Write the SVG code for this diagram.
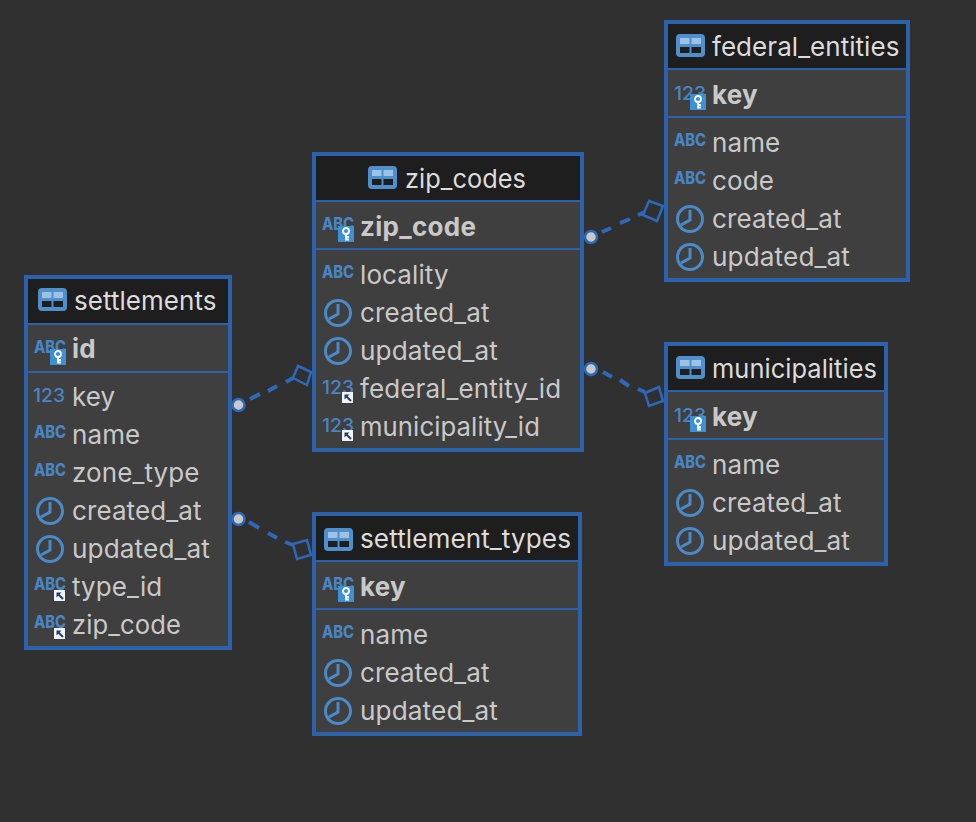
<svg xmlns="http://www.w3.org/2000/svg" width="976" height="822" viewBox="0 0 976 822">
<style>
text{font-family:Inter,"Liberation Sans",sans-serif}
.frame{fill:#3f3f3f;stroke:#2b62ab;stroke-width:4}
.head{fill:#1e1e1e}
.sep{stroke:#2b62ab;stroke-width:2}
.t{font-size:26px;fill:#c9c9c9;letter-spacing:.1px}
.title{font-size:26px;fill:#dcdcdc;letter-spacing:.05px}
.b{font-size:26px;fill:#c9c9c9;font-weight:700;letter-spacing:.3px}
.ty{font-size:17px;fill:#4a84c4;font-weight:800}
.num{font-size:18.5px;fill:#4a84c4;font-weight:500}
.clk{fill:none;stroke:#4a8ac9;stroke-width:3}
.conn{fill:none;stroke:#2c69b8;stroke-width:4}
.sq{fill:#303030;stroke:#2c69b8;stroke-width:2.500}
.dot{fill:#c9c9c9;stroke:#2c69b8;stroke-width:2.500}
</style>
<defs>
<g id="tbl"><rect width="29" height="23" rx="4" fill="#4f8fcc"/><rect x="4" y="4" width="9.500" height="6" fill="#9cc2e6"/><rect x="15.500" y="4" width="9.500" height="6" fill="#9cc2e6"/><rect x="4" y="13" width="9.500" height="6" fill="#1e1e1e"/><rect x="15.500" y="13" width="9.500" height="6" fill="#1e1e1e"/></g>
<g id="clock"><circle cx="0" cy="0" r="12.500" class="clk"/><path d="M0 -9V1L-9 6" class="clk"/></g>
<g id="key"><rect width="16" height="16" fill="#3d8fd6"/><circle cx="8" cy="5" r="3" fill="none" stroke="#fff" stroke-width="1.800"/><path d="M8 8V14.500M8 11H11M8 13.500H11" fill="none" stroke="#fff" stroke-width="1.800"/></g>
<g id="lnk"><rect width="11" height="11" fill="#f2f4f8"/><path d="M2.500 2.500H7.500L2.500 7.500Z" fill="#1f3f70"/><path d="M4 4L9 9" fill="none" stroke="#1f3f70" stroke-width="2"/></g>
</defs>
<rect width="976" height="822" fill="#303030"/>
<g id="connectors">
<path class="conn" d="M250 399L260 394M268 391L277 386M286 382L293 378"/><path class="sq" d="M298 366L311 372L307 385L293 378Z"/><circle class="dot" cx="238.500" cy="405" r="6"/>
<path class="conn" d="M249 522L259 528M268 533L277 538M285 542L293 545"/><path class="sq" d="M293 544L307 540L311 555L297 559Z"/><circle class="dot" cx="238.500" cy="519" r="6"/>
<path class="conn" d="M602 232L611 228M620 223L630 219M638 215L645 212"/><path class="sq" d="M649 201L663 206L657 221L643 215Z"/><circle class="dot" cx="591" cy="237" r="6"/>
<path class="conn" d="M603 372L612 377M620 380L629 386M638 389L645 392"/><path class="sq" d="M645 393L659 387L663 401L649 406Z"/><circle class="dot" cx="591" cy="369" r="6"/>
</g>
<g id="federal_entities">
<rect class="frame" x="666" y="22" width="242" height="258"/><rect class="head" x="668" y="24" width="238" height="45"/>
<path class="sep" d="M668 69H906M668 117H906"/>
<use href="#tbl" x="676" y="34"/><text class="title" x="712" y="56">federal_entities</text>
<text class="num" x="674" y="100" textLength="32" lengthAdjust="spacingAndGlyphs">123</text><use href="#key" x="690" y="94"/><text class="b" x="712" y="104">key</text>
<text class="ty" x="674" y="146" textLength="32" lengthAdjust="spacingAndGlyphs">ABC</text><text class="t" x="712" y="152">name</text>
<text class="ty" x="674" y="184" textLength="32" lengthAdjust="spacingAndGlyphs">ABC</text><text class="t" x="712" y="190">code</text>
<use href="#clock" x="690" y="219"/><text class="t" x="712" y="228">created_at</text>
<use href="#clock" x="690" y="257"/><text class="t" x="712" y="266" textLength="138" lengthAdjust="spacingAndGlyphs">updated_at</text>
</g>
<g id="zip_codes">
<rect class="frame" x="314" y="154" width="268" height="296"/><rect class="head" x="316" y="156" width="264" height="45"/>
<path class="sep" d="M316 201H580M316 249H580"/>
<use href="#tbl" x="368" y="166"/><text class="title" x="405" y="188" textLength="121" lengthAdjust="spacingAndGlyphs">zip_codes</text>
<text class="ty" x="322" y="230" textLength="32" lengthAdjust="spacingAndGlyphs">ABC</text><use href="#key" x="338" y="226"/><text class="b" x="360" y="236">zip_code</text>
<text class="ty" x="322" y="278" textLength="32" lengthAdjust="spacingAndGlyphs">ABC</text><text class="t" x="360" y="284">locality</text>
<use href="#clock" x="338" y="313"/><text class="t" x="360" y="322">created_at</text>
<use href="#clock" x="338" y="351"/><text class="t" x="360" y="360" textLength="138" lengthAdjust="spacingAndGlyphs">updated_at</text>
<text class="num" x="322" y="394" textLength="32" lengthAdjust="spacingAndGlyphs">123</text><use href="#lnk" x="342" y="392"/><text class="t" x="360" y="398">federal_entity_id</text>
<text class="num" x="322" y="432" textLength="32" lengthAdjust="spacingAndGlyphs">123</text><use href="#lnk" x="342" y="430"/><text class="t" x="360" y="436" textLength="180" lengthAdjust="spacingAndGlyphs">municipality_id</text>
</g>
<g id="settlements">
<rect class="frame" x="26" y="277" width="204" height="371"/><rect class="head" x="28" y="279" width="200" height="45"/>
<path class="sep" d="M28 324H228M28 372H228"/>
<use href="#tbl" x="38" y="288"/><text class="title" x="74" y="310">settlements</text>
<text class="ty" x="34" y="353" textLength="32" lengthAdjust="spacingAndGlyphs">ABC</text><use href="#key" x="50" y="349"/><text class="b" x="72" y="358">id</text>
<text class="num" x="33" y="402" textLength="32" lengthAdjust="spacingAndGlyphs">123</text><text class="t" x="72" y="406">key</text>
<text class="ty" x="34" y="438" textLength="32" lengthAdjust="spacingAndGlyphs">ABC</text><text class="t" x="72" y="444">name</text>
<text class="ty" x="34" y="476" textLength="32" lengthAdjust="spacingAndGlyphs">ABC</text><text class="t" x="72" y="482">zone_type</text>
<use href="#clock" x="50" y="511"/><text class="t" x="72" y="520">created_at</text>
<use href="#clock" x="50" y="549"/><text class="t" x="72" y="558" textLength="138" lengthAdjust="spacingAndGlyphs">updated_at</text>
<text class="ty" x="34" y="590" textLength="32" lengthAdjust="spacingAndGlyphs">ABC</text><use href="#lnk" x="54" y="590"/><text class="t" x="72" y="596">type_id</text>
<text class="ty" x="34" y="628" textLength="32" lengthAdjust="spacingAndGlyphs">ABC</text><use href="#lnk" x="54" y="628"/><text class="t" x="72" y="634" textLength="109" lengthAdjust="spacingAndGlyphs">zip_code</text>
</g>
<g id="municipalities">
<rect class="frame" x="666" y="344" width="220" height="220"/><rect class="head" x="668" y="346" width="216" height="45"/>
<path class="sep" d="M668 391H884M668 439H884"/>
<use href="#tbl" x="676" y="356"/><text class="title" x="712" y="378" textLength="165" lengthAdjust="spacingAndGlyphs">municipalities</text>
<text class="num" x="674" y="422" textLength="32" lengthAdjust="spacingAndGlyphs">123</text><use href="#key" x="690" y="416"/><text class="b" x="712" y="426">key</text>
<text class="ty" x="674" y="468" textLength="32" lengthAdjust="spacingAndGlyphs">ABC</text><text class="t" x="712" y="474">name</text>
<use href="#clock" x="690" y="503"/><text class="t" x="712" y="512">created_at</text>
<use href="#clock" x="690" y="541"/><text class="t" x="712" y="550" textLength="138" lengthAdjust="spacingAndGlyphs">updated_at</text>
</g>
<g id="settlement_types">
<rect class="frame" x="314" y="514" width="266" height="220"/><rect class="head" x="316" y="516" width="262" height="45"/>
<path class="sep" d="M316 561H578M316 609H578"/>
<use href="#tbl" x="324" y="528"/><text class="title" x="360" y="548" textLength="211" lengthAdjust="spacingAndGlyphs">settlement_types</text>
<text class="ty" x="322" y="590" textLength="32" lengthAdjust="spacingAndGlyphs">ABC</text><use href="#key" x="338" y="586"/><text class="b" x="360" y="596">key</text>
<text class="ty" x="322" y="638" textLength="32" lengthAdjust="spacingAndGlyphs">ABC</text><text class="t" x="360" y="644">name</text>
<use href="#clock" x="338" y="673"/><text class="t" x="360" y="682">created_at</text>
<use href="#clock" x="338" y="711"/><text class="t" x="360" y="720" textLength="138" lengthAdjust="spacingAndGlyphs">updated_at</text>
</g>
</svg>
